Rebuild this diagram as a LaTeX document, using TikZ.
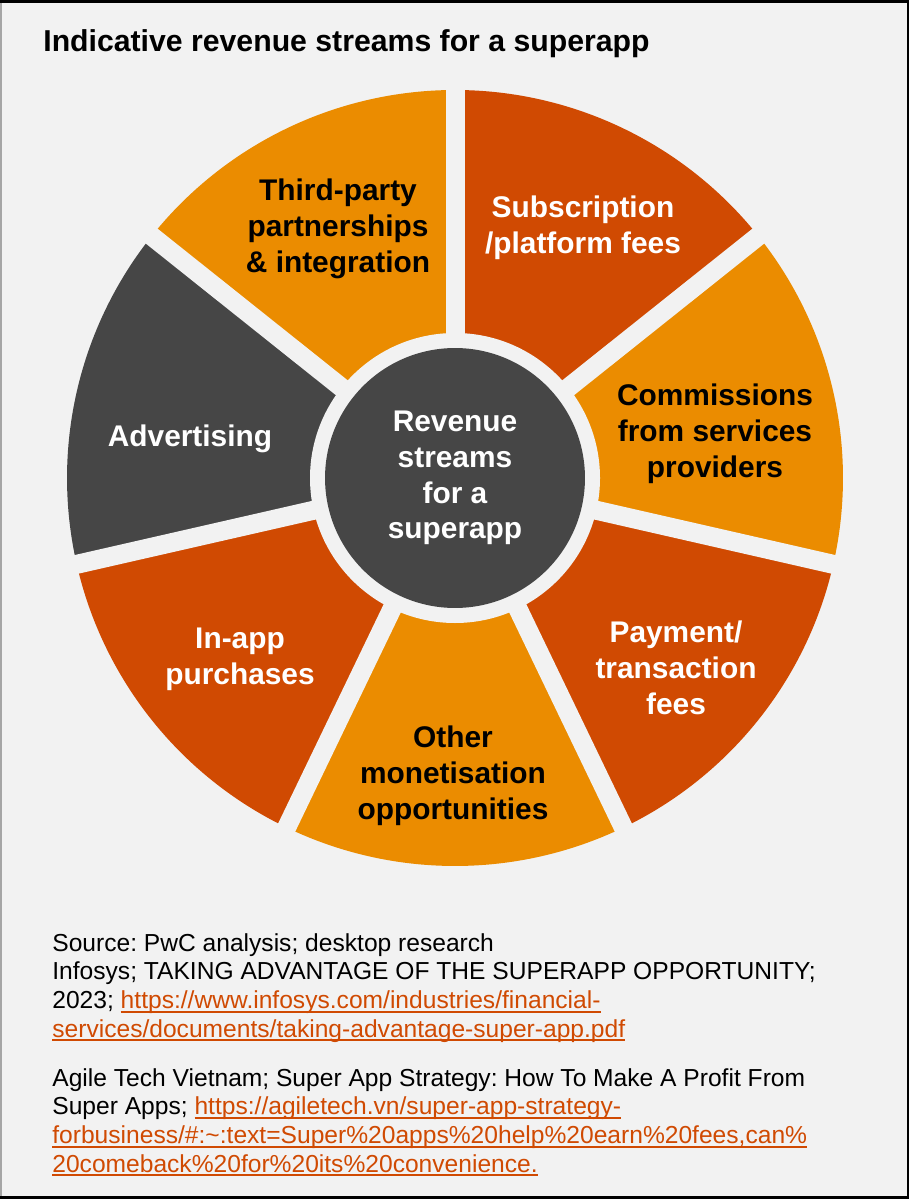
\documentclass[tikz,border=0pt]{standalone}
\usepackage{fontspec}
\setmainfont{Liberation Sans}
\usetikzlibrary{calc}
\definecolor{pwcorange}{RGB}{208,74,2}
\definecolor{pwcamber}{RGB}{235,140,0}
\definecolor{pwcgrey}{RGB}{70,70,70}
\definecolor{pagebg}{RGB}{242,242,242}
\newcommand{\weblink}[1]{\textcolor{pwcorange}{\setbox0\hbox{#1}\rlap{\rule[-2.4pt]{\wd0}{1.1pt}}\box0}}
\frenchspacing

\begin{document}
\begin{tikzpicture}[
  x=0.02cm, y=0.02cm,
  every node/.style={inner sep=0pt},
  seglabel/.style={font=\fontsize{17}{20.4}\selectfont\bfseries, align=center},
  onlight/.style={seglabel, text=black},
  ondark/.style={seglabel, text=white},
  note/.style={anchor=north west, align=left,
               font=\fontsize{14}{16.3}\selectfont},
  gap/.style={draw=pagebg, line width=0.38cm},
]

%% Page and frame
\fill[black] (0,0) rectangle (909,-1199);
\fill[gray!70] (0,-3) rectangle (2,-1196);
\fill[pagebg] (2,-3) rectangle (907,-1196);
\useasboundingbox (0,0) rectangle (909,-1199);

%% Title
\node[anchor=base west, font=\fontsize{17.2}{20}\selectfont\bfseries]
  (title) at (43,-52) {Indicative revenue streams for a superapp};

%% Ring segments, counter-clockwise from the top gap
\coordinate (hubc) at (455,-478);
\foreach \i/\col in {0/pwcamber, 1/pwcgrey, 2/pwcorange, 3/pwcamber,
                     4/pwcorange, 5/pwcamber, 6/pwcorange} {
  \pgfmathsetmacro{\sa}{90+\i*360/7}
  \pgfmathsetmacro{\ea}{90+(\i+1)*360/7}
  \fill[\col] (hubc) -- ++(\sa:388) arc[start angle=\sa, end angle=\ea, radius=388] -- cycle;
}

%% Gaps between the segments
\foreach \i in {0,...,6} {
  \draw[gap] (hubc) -- ++({90+\i*360/7}:400);
}
\fill[pagebg] (hubc) circle[radius=145];

%% Hub
\node[circle, fill=pwcgrey, minimum size=5.2cm, ondark]
  (hub) at (hubc) {Revenue\\streams\\for a\\superapp};

%% Segment labels
\node[onlight] (partner) at (338,-229) {Third-party\\partnerships\\\& integration};
\node[ondark]  (subscr)  at (583,-228) {Subscription\\/platform fees};
\node[onlight] (commis)  at (715,-434) {Commissions\\from services\\providers};
\node[ondark]  (payment) at (676,-668) {Payment/\\transaction\\fees};
\node[onlight] (other)   at (453,-776) {Other\\monetisation\\opportunities};
\node[ondark]  (inapp)   at (240,-659) {In-app\\purchases};
\node[ondark]  (advert)  at (190,-439) {Advertising};

%% Sources
\node[note] (src) at (52,-933)
  {Source: PwC analysis; desktop research\\
   Infosys; TAKING ADVANTAGE OF THE SUPERAPP OPPORTUNITY;\\
   2023; \weblink{https://www.infosys.com/industries/financial-}\\
   \weblink{services/documents/taking-advantage-super-app.pdf}};
\node[note] (agile) at (52,-1068)
  {Agile Tech Vietnam; Super App Strategy: How To Make A Profit From\\
   Super Apps; \weblink{https://agiletech.vn/super-app-strategy-}\\
   \weblink{forbusiness/\#:\textasciitilde:text=Super\%20apps\%20help\%20earn\%20fees,can\%}\\
   \weblink{20comeback\%20for\%20its\%20convenience.}};

\end{tikzpicture}
\end{document}
